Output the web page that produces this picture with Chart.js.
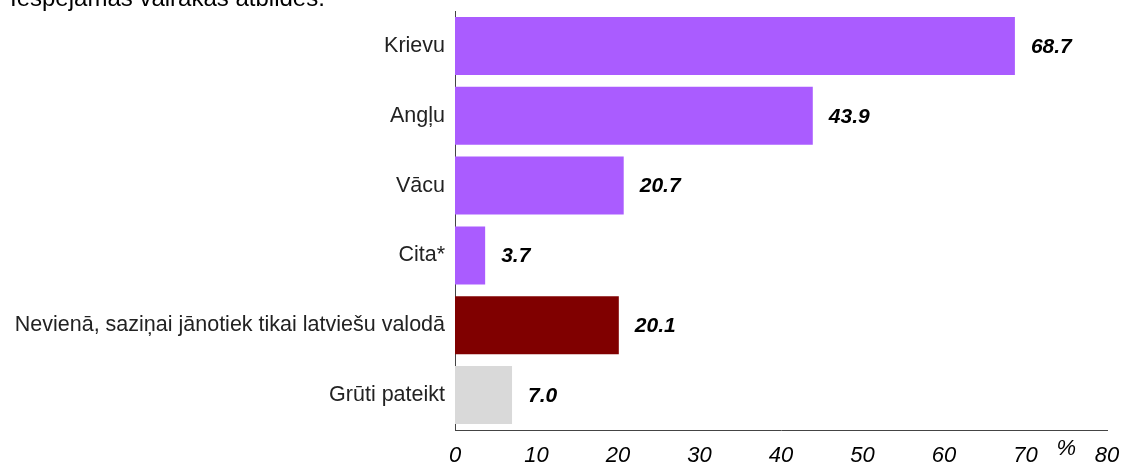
<!DOCTYPE html>
<html>
<head>
<meta charset="utf-8">
<script src="https://cdn.jsdelivr.net/npm/chart.js@4"></script>
<style>
  html, body { margin: 0; padding: 0; background: #fff; }
  #wrap { width: 1122px; height: 468px; position: relative; }
</style>
</head>
<body>
<div id="wrap"><canvas id="chart"></canvas></div>
<script>
const CATEGORIES = [
  "Krievu",
  "Angļu",
  "Vācu",
  "Cita*",
  "Nevienā, saziņai jānotiek tikai latviešu valodā",
  "Grūti pateikt"
];
const VALUES = [68.7, 43.9, 20.7, 3.7, 20.1, 7.0];
const BAR_COLORS = ["#AA5CFF", "#AA5CFF", "#AA5CFF", "#AA5CFF", "#800000", "#D9D9D9"];
const X_TICKS = [0, 10, 20, 30, 40, 50, 60, 70, 80];
const NOTE = "Iespējamas vairākas atbildes.";
const UNIT = "%";

const FONT = '"Liberation Sans", Arial, sans-serif';

// uzraksti pie stabiņiem + virsraksts + mērvienība
const extras = {
  id: 'extras',
  afterDatasetsDraw(chart) {
    const ctx = chart.ctx;
    const meta = chart.getDatasetMeta(0);
    ctx.save();
    ctx.fillStyle = '#000';
    ctx.font = 'italic bold 21px ' + FONT;
    ctx.textAlign = 'left';
    ctx.textBaseline = 'middle';
    meta.data.forEach((bar, i) => {
      ctx.fillText(VALUES[i].toFixed(1), bar.x + 16, bar.y + 1);
    });
    ctx.font = '24px ' + FONT;
    ctx.textBaseline = 'alphabetic';
    ctx.fillText(NOTE, 10, 6);
    const xs = chart.scales.x;
    ctx.font = 'italic 22px ' + FONT;
    ctx.textAlign = 'center';
    ctx.fillText(UNIT, xs.getPixelForValue(75), 455);
    ctx.restore();
  }
};

new Chart(document.getElementById('chart'), {
  type: 'bar',
  data: {
    labels: CATEGORIES,
    datasets: [{
      data: VALUES,
      backgroundColor: BAR_COLORS,
      borderWidth: 0,
      barPercentage: 0.83,
      categoryPercentage: 1.0
    }]
  },
  options: {
    indexAxis: 'y',
    responsive: true,
    maintainAspectRatio: false,
    animation: false,
    layout: { padding: { top: 11, right: 0, bottom: 0, left: 0 } },
    plugins: {
      legend: { display: false },
      tooltip: { enabled: false }
    },
    scales: {
      x: {
        min: 0,
        max: 80,
        afterBuildTicks(scale) { scale.ticks = X_TICKS.map(v => ({ value: v })); },
        grid: { display: false, drawTicks: true, tickLength: 5, tickColor: '#444' },
        border: { display: true, color: '#444', width: 1 },
        ticks: {
          color: '#000',
          padding: 8,
          maxRotation: 0,
          font: { family: FONT, size: 22, style: 'italic' }
        },
        afterFit(scale) {
          scale.height = 38;
          scale.paddingRight = 15;
          scale.paddingLeft = 0;
        }
      },
      y: {
        grid: { display: false, drawTicks: false },
        border: { display: true, color: '#444', width: 1 },
        ticks: {
          color: '#222',
          padding: 10,
          font: { family: FONT, size: 21.5 }
        },
        afterFit(scale) {
          scale.width = 455;
          scale.paddingTop = 0;
          scale.paddingBottom = 0;
        }
      }
    }
  },
  plugins: [extras]
});
</script>
</body>
</html>
